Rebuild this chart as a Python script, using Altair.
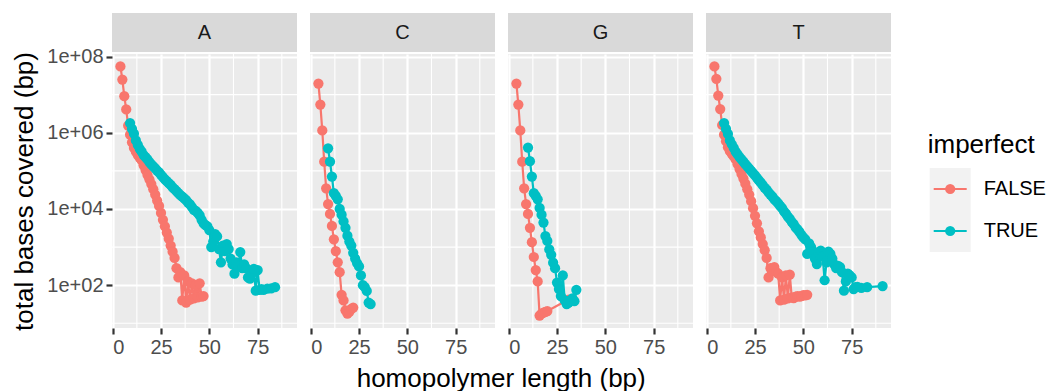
import altair as alt
import numpy as np
import pandas as pd

# ---------------- data ----------------
bases = ["A", "C", "G", "T"]
series_names = ["FALSE", "TRUE"]
series_colors = ["#F8766D", "#00BFC4"]

A_false_len = list(range(4, 48))
A_false_bp = [5.5e7, 2.5e7, 9.1e6, 4.1e6, 1.55e6, 8.9e5, 5.6e5, 4.0e5, 3.2e5, 2.6e5,
              2.2e5, 1.9e5, 1.4e5, 1.05e5, 7.9e4, 6.0e4, 4.5e4, 3.3e4, 2.4e4, 1.66e4,
              1.2e4, 7.9e3, 5.2e3, 3.5e3, 2.4e3, 1.66e3, 1.1e3, 760, 520, 280,
              160, 220, 40, 180, 35, 126, 42, 112, 45, 100,
              48, 112, 50, 52]
A_true_len = list(range(9, 79)) + [80, 82, 84]
A_true_bp = [1.8e6, 1.26e6, 9.5e5, 6.3e5, 4.8e5, 3.8e5, 3.2e5, 2.6e5, 2.3e5, 2.0e5,
             1.7e5, 1.48e5, 1.32e5, 1.17e5, 1.02e5, 9.1e4, 7.9e4, 6.9e4, 6.0e4, 5.4e4,
             4.8e4, 4.3e4, 3.7e4, 3.3e4, 2.95e4, 2.6e4, 2.3e4, 2.1e4, 1.9e4, 1.7e4,
             1.48e4, 1.32e4, 1.12e4, 9.5e3, 8.9e3, 7.9e3, 6.8e3, 5.2e3, 4.2e3, 3.8e3,
             3.5e3, 2.8e3, 1.0e3, 1.4e3, 2.2e3, 1.9e3, 890, 400, 1.1e3, 790,
             1.2e3, 890, 500, 350, 200, 400, 320, 740, 280, 350,
             280, 160, 150, 200, 270, 72, 250, 76, 79, 76,
             81, 83, 89]

C_false_len = list(range(4, 23))
C_false_bp = [1.95e7, 5.5e6, 1.15e6, 1.74e5, 3.5e4, 1.35e4, 7.4e3, 3.6e3, 1.6e3, 790,
              400, 220, 56, 40, 22, 18, 20, 24, 26]
C_true_len = list(range(9, 32))
C_true_bp = [3.9e5, 1.74e5, 7.1e4, 2.6e4, 2.2e4, 1.8e4, 1.0e4, 7.1e3, 4.7e3, 3.2e3,
             2.0e3, 1.4e3, 1.1e3, 710, 500, 380, 310, 180, 100, 89,
             71, 35, 32]

G_false_len = list(range(4, 21)) + [31]
G_false_bp = [1.95e7, 5.5e6, 1.15e6, 1.74e5, 3.5e4, 1.35e4, 7.4e3, 3.2e3, 1.35e3, 550,
              250, 126, 16, 18, 19, 20, 21, 42]
G_true_len = list(range(10, 36))
G_true_bp = [4.1e5, 1.8e5, 7.1e4, 2.6e4, 2.2e4, 1.8e4, 1.07e4, 7.1e3, 4.4e3, 1.95e3,
             1.45e3, 870, 630, 390, 280, 117, 79, 52, 180, 40,
             32, 35, 40, 45, 38, 76]

T_false_len = list(range(4, 53))
T_false_bp = [5.5e7, 2.6e7, 9.5e6, 4.2e6, 1.6e6, 8.9e5, 6.0e5, 4.2e5, 3.3e5, 2.8e5,
              2.4e5, 2.0e5, 1.5e5, 1.12e5, 8.3e4, 6.3e4, 4.6e4, 3.3e4, 2.4e4, 1.6e4,
              1.05e4, 6.6e3, 4.2e3, 2.6e3, 1.8e3, 1.2e3, 830, 520, 160, 280,
              250, 300, 220, 200, 40, 160, 42, 180, 45, 190,
              48, 46, 50, 52, 50, 52, 55, 54, 56]
T_true_len = list(range(9, 79)) + [80, 83, 91]
T_true_bp = [1.8e6, 1.26e6, 9.3e5, 6.3e5, 5.0e5, 4.0e5, 3.2e5, 2.7e5, 2.3e5, 2.0e5,
             1.74e5, 1.5e5, 1.32e5, 1.15e5, 1.0e5, 8.7e4, 7.6e4, 6.6e4, 5.6e4, 4.9e4,
             4.2e4, 3.6e4, 3.2e4, 2.75e4, 2.4e4, 2.1e4, 1.8e4, 1.6e4, 1.4e4, 1.2e4,
             1.05e4, 8.7e3, 7.6e3, 6.3e3, 5.5e3, 4.6e3, 4.0e3, 3.3e3, 2.9e3, 2.5e3,
             2.1e3, 1.8e3, 1.6e3, 660, 1.26e3, 1.0e3, 790, 500, 360, 710,
             810, 560, 135, 400, 760, 660, 500, 350, 280, 320,
             300, 220, 72, 126, 200, 180, 160, 79, 89, 91,
             85, 89, 95]

x_ticks = [0, 25, 50, 75]
x_minor = [12.5, 37.5, 62.5, 87.5]
y_ticks = [1e2, 1e4, 1e6, 1e8]
y_minor = [1e1, 1e3, 1e5, 1e7]

raw = {
    ("A", "FALSE"): (A_false_len, A_false_bp), ("A", "TRUE"): (A_true_len, A_true_bp),
    ("C", "FALSE"): (C_false_len, C_false_bp), ("C", "TRUE"): (C_true_len, C_true_bp),
    ("G", "FALSE"): (G_false_len, G_false_bp), ("G", "TRUE"): (G_true_len, G_true_bp),
    ("T", "FALSE"): (T_false_len, T_false_bp), ("T", "TRUE"): (T_true_len, T_true_bp),
}
frames = []
for (b, s), (lens, bps) in raw.items():
    frames.append(pd.DataFrame({"base": b, "imperfect": s, "length": lens, "bases": bps}))
df = pd.concat(frames, ignore_index=True)

# ggplot-like 5% expansion of the shared scales
xmin, xmax = df["length"].min(), df["length"].max()
xpad = 0.05 * (xmax - xmin)
xdom = [float(xmin - xpad), float(xmax + xpad)]
lo, hi = np.log10(df["bases"].min()), np.log10(df["bases"].max())
ypad = 0.05 * (hi - lo)
ydom = [float(10 ** (lo - ypad)), float(10 ** (hi + ypad))]

W, H = 185, 274
FONT = "Liberation Sans"
TITLE_FS = 26
xscale = alt.Scale(domain=xdom, nice=False, zero=False)
yscale = alt.Scale(type="log", domain=ydom, nice=False)
cscale = alt.Scale(domain=series_names, range=series_colors)


def panel(letter, first=False, xtitle=False, legend=False):
    d = df[df["base"] == letter]
    if xtitle:
        xaxis = alt.Axis(values=x_ticks, title="homopolymer length (bp)",
                         titleX=501 - 310.3, titleY=58,
                         titleAlign="center", titleBaseline="alphabetic",
                         titleFontSize=TITLE_FS, titleFontWeight="normal", titleColor="black",
                         labelPadding=3)
    else:
        xaxis = alt.Axis(values=x_ticks, title=None, labelPadding=3)
    if first:
        yaxis = alt.Axis(values=y_ticks, title="total bases covered (bp)",
                         labelExpr="replace(format(datum.value, '.0e'), '+', '+0')",
                         titleX=-80, titleY=H / 2, titleAngle=270, titleAlign="center",
                         titleBaseline="alphabetic", titleFontSize=TITLE_FS,
                         titleFontWeight="normal", titleColor="black", labelPadding=3)
    else:
        yaxis = alt.Axis(values=y_ticks, title=None, labels=False, ticks=False)

    minor_x = alt.Chart(pd.DataFrame({"length": x_minor})).mark_rule(
        color="white", strokeWidth=1.1).encode(x=alt.X("length:Q", scale=xscale, axis=xaxis))
    minor_y = alt.Chart(pd.DataFrame({"bases": y_minor})).mark_rule(
        color="white", strokeWidth=1.1).encode(y=alt.Y("bases:Q", scale=yscale, axis=yaxis))

    base = alt.Chart(d).encode(
        x=alt.X("length:Q", scale=xscale, axis=xaxis),
        y=alt.Y("bases:Q", scale=yscale, axis=yaxis),
        color=alt.Color("imperfect:N", scale=cscale, legend=None),
    )
    lines = base.mark_line(strokeWidth=2.2)
    pts = base.mark_circle(size=105, opacity=1)

    sdf = pd.DataFrame({"base": [letter]})
    strip = alt.Chart(sdf).mark_rect(color="#D9D9D9").encode(
        x=alt.value(0), x2=alt.value(W), y=alt.value(-41), y2=alt.value(-2))
    stext = alt.Chart(sdf).mark_text(fontSize=20, font=FONT, color="#1A1A1A",
                                     baseline="middle", align="center").encode(
        text="base:N", x=alt.value(W / 2), y=alt.value(-21))

    layers = [minor_x, minor_y, lines, pts, strip, stext]

    if legend:
        lx = 221.7
        title = alt.Chart(pd.DataFrame({"t": ["imperfect"]})).mark_text(
            fontSize=TITLE_FS, font=FONT, color="black", align="left", baseline="alphabetic").encode(
            text="t:N", x=alt.value(lx), y=alt.value(99))
        keybg = alt.Chart(pd.DataFrame({"t": ["bg"]})).mark_rect(color="#F2F2F2").encode(
            x=alt.value(lx + 2), x2=alt.value(lx + 43), y=alt.value(114),
            y2=alt.value(114 + 42 * len(series_names)))
        layers += [title, keybg]
        for i, (nm, col) in enumerate(zip(series_names, series_colors)):
            yy = 135 + 42 * i
            ldf = pd.DataFrame({"name": [nm]})
            layers.append(alt.Chart(ldf).mark_rule(color=col, strokeWidth=2.2).encode(
                x=alt.value(lx + 6), x2=alt.value(lx + 39), y=alt.value(yy)))
            layers.append(alt.Chart(ldf).mark_circle(color=col, size=105, opacity=1).encode(
                x=alt.value(lx + 22.5), y=alt.value(yy)))
            layers.append(alt.Chart(ldf).mark_text(
                fontSize=20, font=FONT, color="black", align="left", baseline="middle").encode(
                text="name:N", x=alt.value(lx + 56), y=alt.value(yy)))

    return alt.layer(*layers).properties(width=W, height=H)


chart = alt.hconcat(
    panel("A", first=True),
    panel("C", xtitle=True),
    panel("G"),
    panel("T", legend=True),
    spacing=13,
    bounds="flush",
).properties(
    padding={"left": 10, "top": 13, "right": 0, "bottom": 0},
).configure_view(
    fill="#EBEBEB", stroke=None
).configure_axis(
    domain=False, grid=True, gridColor="white", gridWidth=2.2,
    tickColor="#333333", tickWidth=2.2, tickSize=6,
    labelColor="#4D4D4D", labelFontSize=20, labelFont=FONT, titleFont=FONT,
).configure_text(font=FONT)

chart.save("out.html", embed_options={"renderer": "svg", "actions": False})
